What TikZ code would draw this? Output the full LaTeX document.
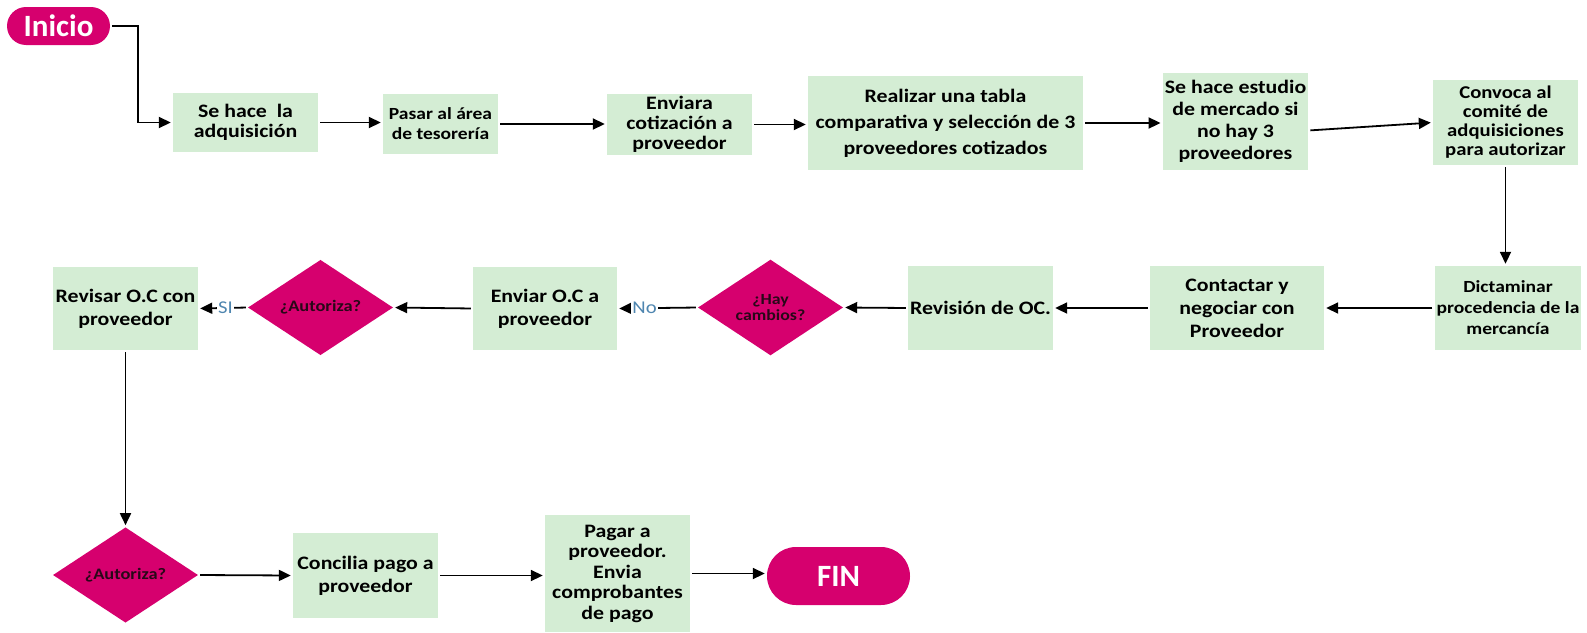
\documentclass[tikz,border=0pt]{standalone}
\usepackage{fontspec}
\setmainfont{Carlito}[FakeStretch=1.15]
\newfontfamily\termfont{Carlito}
\usetikzlibrary{shapes.geometric,arrows.meta}
\definecolor{boxgreen}{RGB}{212,237,212}
\definecolor{magentafill}{RGB}{214,0,110}
\definecolor{dectext}{RGB}{40,8,24}
\definecolor{labblue}{RGB}{79,134,176}
\tikzset{
  box/.style={fill=boxgreen, draw=none, inner sep=2pt, align=center,
    font=\bfseries\fontsize{19}{20}\selectfont},
  dec/.style={diamond, fill=magentafill, draw=none, inner sep=0pt, align=center,
    text=dectext, minimum width=145pt, minimum height=85pt,
    font=\bfseries\fontsize{16}{17}\selectfont},
  term/.style={fill=magentafill, draw=none, text=white, inner sep=0pt,
    font=\termfont\bfseries\fontsize{31}{31}\selectfont},
  arr/.style={draw=black, line width=1.8pt, shorten >=2pt, shorten <=2pt,
    -{Triangle[length=12pt,width=11pt]}},
  lab/.style={fill=white, inner sep=1.5pt, text=labblue,
    font=\fontsize{18}{18}\selectfont}
}
\begin{document}
\begin{tikzpicture}[x=1pt,y=-1pt]
\useasboundingbox (0,0) rectangle (1587,632);

% terminals
\node[term, minimum width=103pt, minimum height=38pt, rounded corners=19pt] (ini) at (58.5,26) {Inicio};
\node[term, minimum width=143pt, minimum height=58pt, rounded corners=29pt] (fin) at (838.5,576) {FIN};

% first row
\node[box, minimum width=145pt, minimum height=59pt] (b1) at (245.5,122.5) {Se hace\ \ la\\adquisición};
\node[box, minimum width=115pt, minimum height=60pt, font=\bfseries\fontsize{17}{20}\selectfont] (b2) at (440.5,124) {Pasar al área\\de tesorería};
\node[box, minimum width=145pt, minimum height=57pt, font=\bfseries\fontsize{19}{20}\selectfont] (b3) at (679.5,124.5) {Enviara\\cotización a\\proveedor};
\node[box, minimum width=275pt, minimum height=94pt, font=\bfseries\fontsize{19}{26}\selectfont] (b4) at (945.5,123) {Realizar una tabla\\comparativa y selección de 3\\proveedores cotizados};
\node[box, minimum width=145pt, minimum height=97pt, font=\bfseries\fontsize{19}{22}\selectfont] (b5) at (1235.5,121.5) {Se hace estudio\\de mercado si\\no hay 3\\proveedores};
\node[box, minimum width=145pt, minimum height=85pt, font=\bfseries\fontsize{18}{19}\selectfont] (b6) at (1505.5,122.5) {Convoca al\\comité de\\adquisiciones\\para autorizar};

% second row
\node[box, minimum width=146pt, minimum height=84pt, font=\bfseries\fontsize{17}{21}\selectfont] (r1) at (1508,308) {Dictaminar\\procedencia de la\\mercancía};
\node[box, minimum width=174pt, minimum height=84pt, font=\bfseries\fontsize{19}{23}\selectfont] (r2) at (1237,308) {Contactar y\\negociar con\\Proveedor};
\node[box, minimum width=143pt, minimum height=84pt] (r3) at (980.5,308) {Revisión de OC.};
\node[dec, font=\bfseries\fontsize{15.5}{16}\selectfont] (d1) at (770.5,307.5) {¿Hay\\cambios?};
\node[box, minimum width=144pt, minimum height=83pt, font=\bfseries\fontsize{19}{23}\selectfont] (r4) at (545,308.5) {Enviar O.C a\\proveedor};
\node[dec] (d2) at (320.5,307.5) {¿Autoriza?};
\node[box, minimum width=145pt, minimum height=83pt, font=\bfseries\fontsize{19}{23}\selectfont] (r5) at (125.5,308.5) {Revisar O.C con\\proveedor};

% third row
\node[dec, minimum height=86pt] (d3) at (125.5,575) {¿Autoriza?};
\node[box, minimum width=145pt, minimum height=85pt, font=\bfseries\fontsize{19}{23}\selectfont] (c1) at (365.5,575.5) {Concilia pago a\\proveedor};
\node[box, minimum width=145pt, minimum height=117pt, font=\bfseries\fontsize{19}{20.5}\selectfont] (c2) at (617.5,573.5) {Pagar a\\proveedor.\\Envia\\comprobantes\\de pago};

% connectors
\draw[arr] (ini.east) -- ++(28,0) |- (b1.west);
\draw[arr] (b1.east) -- (b1.east -| b2.west);
\draw[arr] (b2.east) -- (b2.east -| b3.west);
\draw[arr] (b3.east) -- (b3.east -| b4.west);
\draw[arr] (b4.east) -- (b4.east -| b5.west);
\draw[arr] ([yshift=-9pt]b5.east) -- (b6.west);
\draw[arr] (b6.south) -- (b6.south |- r1.north);
\draw[arr] (r1.west) -- (r1.west -| r2.east);
\draw[arr] (r2.west) -- (r2.west -| r3.east);
\draw[arr] (r3.west) -- (d1.east);
\draw[arr] (d1.west) -- node[lab, pos=0.66] {No} (r4.east);
\draw[arr] (r4.west) -- (d2.east);
\draw[arr] (d2.west) -- node[lab, pos=0.45] {SI} (r5.east);
\draw[arr] (r5.south) -- (d3.north);
\draw[arr] (d3.east) -- (c1.west);
\draw[arr] (c1.east) -- (c1.east -| c2.west);
\draw[arr] (c2.east) -- (c2.east -| fin.west);
\end{tikzpicture}
\end{document}
